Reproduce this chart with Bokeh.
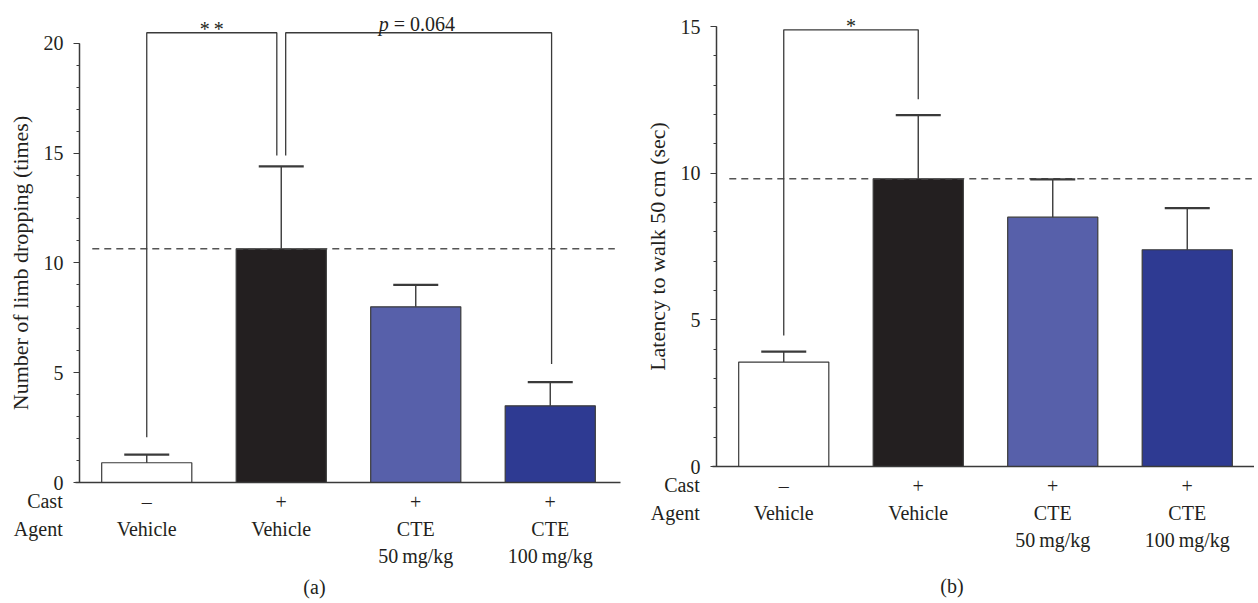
from bokeh.plotting import figure
from bokeh.models import Range1d, Whisker, TeeHead, ColumnDataSource, FixedTicker
from bokeh.core.properties import value
from bokeh.layouts import row
from bokeh.embed import file_html
from bokeh.resources import INLINE

# ---------------- data ----------------
cast = ["\u2013", "+", "+", "+"]
agent = ["Vehicle", "Vehicle", "CTE\n50\u2009mg/kg", "CTE\n100\u2009mg/kg"]
limb_mean = [0.9, 10.64, 8.0, 3.49]
limb_sem = [0.37, 3.76, 1.0, 1.08]
lat_mean = [3.56, 9.81, 8.5, 7.39]
lat_sem = [0.36, 2.17, 1.29, 1.42]
bar_colors = ["#ffffff", "#231f20", "#5760aa", "#2e3a92"]
limb_ticks = [0, 5, 10, 15, 20]
lat_ticks = [0, 5, 10, 15]
row_names = ["Cast", "Agent"]

FONT = "Liberation Serif"
TXT = "#231f20"
LINE = "#3a3a3a"
FS = "20px"
LFS = "22px"
H = 600

xpos = [i + 0.5 for i in range(len(cast))]
xlabels = {x: f"{c}\n{a}" for x, c, a in zip(xpos, cast, agent)}


def panel(means, sems, ticks, width, axis_px, unit_px, zero_px, yunit_px,
          ylabel, caption, brackets, row_y, cap_xy, x_bound_hi):
    x0 = -axis_px / unit_px
    x1 = (width - axis_px) / unit_px
    y0 = -(H - zero_px) / yunit_px
    y1 = zero_px / yunit_px
    p = figure(x_range=Range1d(x0, x1), y_range=Range1d(y0, y1),
               width=width, height=H, output_backend="svg",
               toolbar_location=None, min_border=0)
    p.outline_line_color = None
    p.grid.grid_line_color = None
    p.background_fill_color = "white"
    p.border_fill_color = "white"

    src = ColumnDataSource(dict(x=xpos, top=means,
                                upper=[m + s for m, s in zip(means, sems)],
                                color=bar_colors))
    p.vbar(x="x", top="top", width=0.67, source=src, fill_color="color",
           line_color=LINE, line_width=1.2)
    p.add_layout(Whisker(source=src, base="x", lower="top", upper="upper",
                         dimension="height", line_color=LINE, line_width=1.4,
                         upper_head=TeeHead(size=45, line_color=LINE,
                                            line_width=2.2),
                         lower_head=None, level="overlay"))

    # dashed reference line at the cast + vehicle mean
    p.segment(x0=[0.095], x1=[3.98], y0=[means[1]], y1=[means[1]],
              line_color="#555555", line_width=1.5, line_dash="7 5")

    # significance brackets
    for (i0, off0, y0b, i1, off1, y1b, ytop, txt, ty) in brackets:
        xa = xpos[i0] + off0
        xb = xpos[i1] + off1
        p.line([xa, xa, xb, xb], [y0b, ytop, ytop, y1b], line_color=LINE,
               line_width=1.3)
        xm = (xa + xb) / 2
        if txt.startswith("p"):
            p.text(x=[xm], y=[ty], text=["p"], x_offset=-40,
                   text_font=value(FONT), text_font_style="italic",
                   text_font_size=FS, text_color=TXT,
                   text_baseline="alphabetic", text_align="left")
            p.text(x=[xm], y=[ty], text=[txt[1:].strip()], x_offset=-25,
                   text_font=value(FONT), text_font_size=FS, text_color=TXT,
                   text_baseline="alphabetic", text_align="left")
        else:
            p.text(x=[xm], y=[ty], text=[txt], text_font=value(FONT),
                   text_font_size=FS, text_color=TXT,
                   text_baseline="alphabetic", text_align="center")

    # y axis
    ya = p.yaxis[0]
    ya.fixed_location = 0
    ya.ticker = FixedTicker(ticks=ticks,
                            minor_ticks=list(range(ticks[0], ticks[-1] + 1)))
    ya.bounds = (ticks[0], ticks[-1])
    ya.axis_line_color = LINE
    ya.axis_line_width = 1.5
    ya.major_tick_line_color = LINE
    ya.minor_tick_line_color = LINE
    ya.major_tick_line_width = 1.2
    ya.major_tick_out = 6
    ya.major_tick_in = 0
    ya.minor_tick_out = 3
    ya.minor_tick_in = 0
    ya.major_label_standoff = 10
    ya.major_label_text_font = FONT
    ya.major_label_text_font_size = FS
    ya.major_label_text_color = TXT
    ya.axis_label = ylabel
    ya.axis_label_text_font = FONT
    ya.axis_label_text_font_size = LFS
    ya.axis_label_text_font_style = "normal"
    ya.axis_label_text_color = TXT
    ya.axis_label_standoff = 8

    # x axis
    xa = p.xaxis[0]
    xa.fixed_location = 0
    xa.ticker = FixedTicker(ticks=xpos)
    xa.major_label_overrides = xlabels
    xa.bounds = (-0.03, x_bound_hi)
    xa.axis_line_color = LINE
    xa.axis_line_width = 1.5
    xa.major_tick_line_color = None
    xa.minor_tick_line_color = None
    xa.major_tick_out = 0
    xa.major_tick_in = 0
    xa.major_label_standoff = 8
    xa.major_label_text_font = FONT
    xa.major_label_text_font_size = FS
    xa.major_label_text_color = TXT
    xa.major_label_text_line_height = 1.24

    # row headers and panel caption
    p.text(x=[-0.125] * len(row_names), y=row_y, text=row_names,
           text_font=value(FONT), text_font_size=FS, text_color=TXT,
           text_align="right", text_baseline="middle")
    p.text(x=[cap_xy[0]], y=[cap_xy[1]], text=[caption],
           text_font=value(FONT), text_font_size=FS, text_color=TXT,
           text_align="center", text_baseline="middle")
    return p


brackets_a = [
    (0, 0.0, 2.06, 1, -0.033, 14.89, 20.48, "*\u2009*", 20.63),
    (1, 0.033, 14.89, 3, 0.01, 5.4, 20.48, "p = 0.064", 20.86),
]
brackets_b = [
    (0, 0.0, 4.47, 1, 0.0, 12.52, 14.89, "*", 15.02),
]

pa = panel(limb_mean, limb_sem, limb_ticks, 630, 79, 134.5, 482, 21.96,
           "Number of limb dropping (times)", "(a)", brackets_a,
           [-0.865, -2.1], (1.747, -4.74), 4.02)
pb = panel(lat_mean, lat_sem, lat_ticks, 624, 86, 134.5, 466, 29.33,
           "Latency to walk 50\u2009cm (sec)", "(b)", brackets_b,
           [-0.62, -1.6], (1.751, -4.09), 4.0)

layout = row(pa, pb)
open("out.html", "w").write(file_html(layout, INLINE))
